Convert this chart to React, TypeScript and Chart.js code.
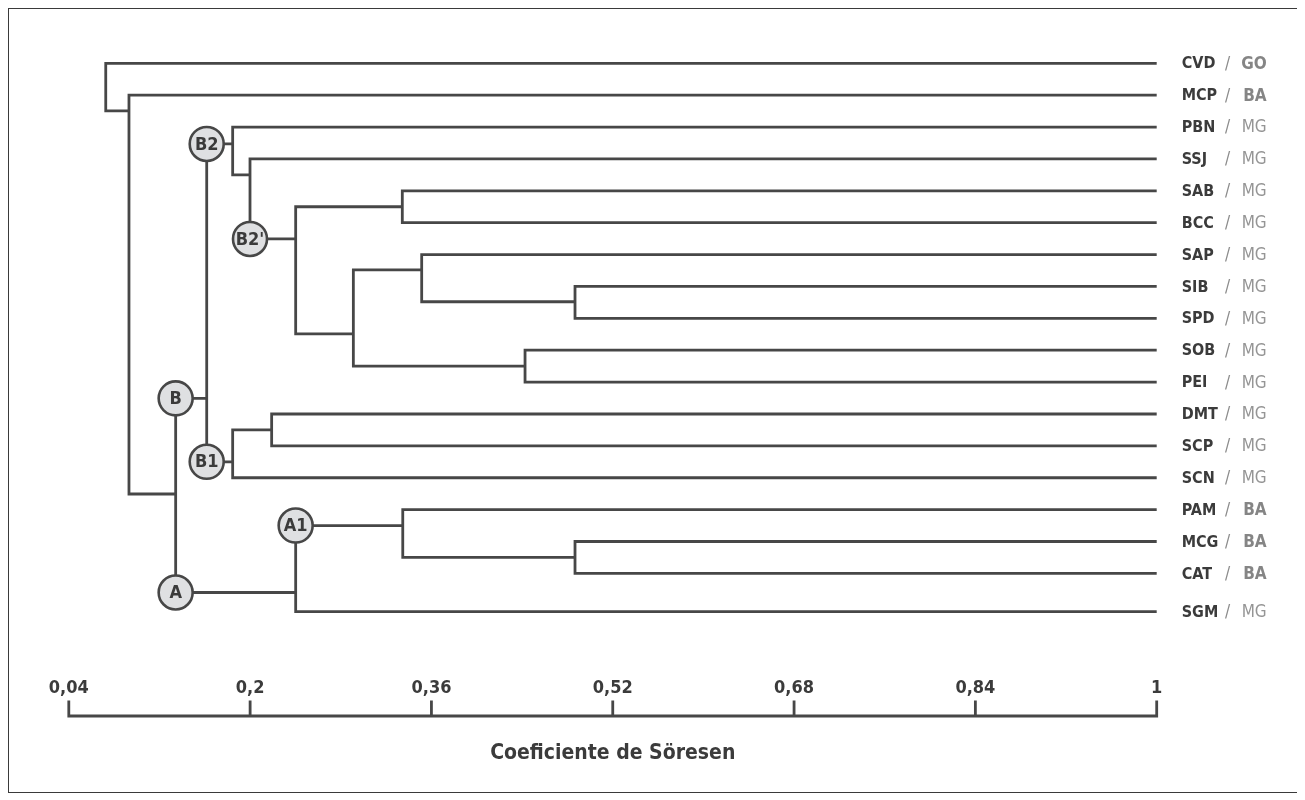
import React, { useEffect, useRef } from "react";
import { Chart, registerables } from "chart.js";

Chart.register(...registerables);

// ---- Data ----
const leafCodes = ["CVD", "MCP", "PBN", "SSJ", "SAB", "BCC", "SAP", "SIB", "SPD", "SOB", "PEI", "DMT", "SCP", "SCN", "PAM", "MCG", "CAT", "SGM"];
const leafStates = ["GO", "BA", "MG", "MG", "MG", "MG", "MG", "MG", "MG", "MG", "MG", "MG", "MG", "MG", "BA", "BA", "BA", "MG"];
const leafRows = [0, 1, 2, 3, 4, 5, 6, 7, 8, 9, 10, 11, 12, 13, 14, 15, 16, 17.2];

const nodeIds = ["root", "n1", "n2", "B", "B2", "n5", "B2p", "n7", "n8", "n9", "n10", "n11", "B1", "n13", "A", "A1", "n16"];
const nodeSim = [0.0726, 0.0931, 0.1343, 0.1617, 0.1846, 0.1999, 0.2402, 0.3343, 0.2911, 0.3514, 0.4867, 0.4426, 0.1846, 0.219, 0.2402, 0.3347, 0.4867];
const nodeRows = [0.75, 1.49, 13.51, 10.51, 2.53, 3.5, 5.51, 4.5, 8.49, 6.48, 7.48, 9.5, 12.5, 11.5, 16.6, 14.5, 15.5];
const nodeKids = [
  ["CVD", "n1"], ["MCP", "n2"], ["B", "A"], ["B2", "B1"], ["PBN", "n5"], ["SSJ", "B2p"],
  ["n7", "n8"], ["SAB", "BCC"], ["n9", "n11"], ["SAP", "n10"], ["SIB", "SPD"], ["SOB", "PEI"],
  ["n13", "SCN"], ["DMT", "SCP"], ["A1", "SGM"], ["PAM", "n16"], ["MCG", "CAT"],
];
const tagNodes = ["B", "B2", "B2p", "B1", "A", "A1"];
const tagTexts = ["B", "B2", "B2'", "B1", "A", "A1"];

const tickValues = [0.04, 0.2, 0.36, 0.52, 0.68, 0.84, 1];
const tickLabels = ["0,04", "0,2", "0,36", "0,52", "0,68", "0,84", "1"];
const axisTitle = "Coeficiente de Söresen";

// ---- Styles ----
const LINE = "#474747";
const DARK = "#3b3b3b";
const GRAY = "#8c8c8c";
const FONT = "'DejaVu Sans Condensed', 'DejaVu Sans', sans-serif";

function posOf(id: string) {
  const li = leafCodes.indexOf(id);
  if (li >= 0) return { x: 1, y: leafRows[li] };
  const ni = nodeIds.indexOf(id);
  return { x: nodeSim[ni], y: nodeRows[ni] };
}
function parentOf(id: string) {
  return nodeKids.findIndex((k) => k.includes(id));
}

export default function App() {
  const ref = useRef<HTMLCanvasElement>(null);

  useEffect(() => {
    if (!ref.current) return;

    const lineSets = nodeKids.map((kids, i) => {
      const a = posOf(kids[0]);
      const b = posOf(kids[1]);
      const x = nodeSim[i];
      return {
        type: "scatter" as const,
        data: [
          { x: a.x, y: a.y },
          { x, y: a.y },
          { x, y: b.y },
          { x: b.x, y: b.y },
        ],
        showLine: true,
        borderColor: LINE,
        borderWidth: 2.8,
        borderJoinStyle: "miter" as const,
        pointRadius: 0,
        tension: 0,
        clip: false as const,
        order: 1,
      };
    });

    const circleData = tagNodes.map((id) => {
      const p = parentOf(id);
      return { x: nodeSim[p], y: posOf(id).y };
    });

    const circleSet = {
      type: "scatter" as const,
      data: circleData,
      pointRadius: 17,
      pointBackgroundColor: "#dfe0e2",
      pointBorderColor: LINE,
      pointBorderWidth: 2.6,
      showLine: false,
      clip: false as const,
      order: 0,
    };

    const decor = {
      id: "decor",
      afterDatasetsDraw(chart: any) {
        const ctx = chart.ctx;
        const xs = chart.scales.x;
        const ys = chart.scales.y;
        ctx.save();
        // circle labels
        const meta = chart.getDatasetMeta(0);
        ctx.fillStyle = DARK;
        ctx.font = `bold 18px ${FONT}`;
        ctx.textAlign = "center";
        ctx.textBaseline = "middle";
        meta.data.forEach((el: any, i: number) => {
          ctx.fillText(tagTexts[i], el.x, el.y + 1);
        });

        // leaf labels
        const xr = xs.getPixelForValue(1);
        leafCodes.forEach((code, i) => {
          const y = ys.getPixelForValue(leafRows[i]) + 1;
          ctx.textBaseline = "middle";
          ctx.textAlign = "left";
          ctx.fillStyle = DARK;
          ctx.font = `bold 16px ${FONT}`;
          ctx.fillText(code, xr + 25, y);
          ctx.fillStyle = GRAY;
          ctx.font = `17px ${FONT}`;
          ctx.textAlign = "center";
          ctx.fillText("/", xr + 71, y);
          const st = leafStates[i];
          ctx.textAlign = "right";
          ctx.font = st === "MG" ? `17px ${FONT}` : `bold 17px ${FONT}`;
          ctx.fillStyle = st === "MG" ? "#959595" : "#858585";
          ctx.fillText(st, xr + 110, y);
        });

        // axis
        const yLine = 707;
        const x0 = xs.getPixelForValue(tickValues[0]);
        const x1 = xs.getPixelForValue(tickValues[tickValues.length - 1]);
        ctx.strokeStyle = LINE;
        ctx.lineWidth = 2.8;
        ctx.lineCap = "square";
        ctx.beginPath();
        ctx.moveTo(x0, yLine);
        ctx.lineTo(x1, yLine);
        tickValues.forEach((v) => {
          const x = xs.getPixelForValue(v);
          ctx.moveTo(x, yLine);
          ctx.lineTo(x, yLine - 14);
        });
        ctx.stroke();
        ctx.fillStyle = DARK;
        ctx.font = `bold 18px ${FONT}`;
        ctx.textAlign = "center";
        ctx.textBaseline = "middle";
        tickValues.forEach((v, i) => {
          ctx.fillText(tickLabels[i], xs.getPixelForValue(v), 679);
        });
        ctx.font = `bold 21px ${FONT}`;
        ctx.fillText(axisTitle, (x0 + x1) / 2, 745);
        ctx.restore();
      },
    };

    const chart = new Chart(ref.current, {
      type: "scatter",
      data: { datasets: [circleSet as any, ...(lineSets as any[])] },
      options: {
        responsive: false,
        animation: false,
        events: [],
        layout: { padding: { left: 59.8, right: 140.3, top: 22.42, bottom: 91.1 } },
        scales: {
          x: { type: "linear", min: 0.04, max: 1, display: false },
          y: { type: "linear", min: -1, max: 20, reverse: true, display: false },
        },
        plugins: { legend: { display: false }, tooltip: { enabled: false } },
      },
      plugins: [decor],
    });
    return () => chart.destroy();
  }, []);

  return (
    <div style={{ width: 1288, height: 783, border: "1px solid #3a3a3a", background: "#fff" }}>
      <canvas ref={ref} width={1288} height={783} style={{ display: "block", width: 1288, height: 783 }} />
    </div>
  );
}
